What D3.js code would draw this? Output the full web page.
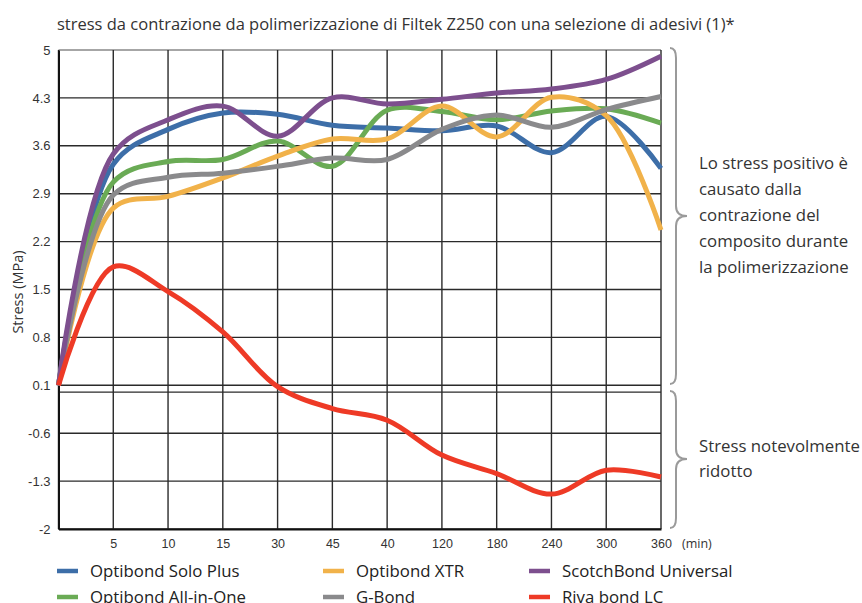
<!DOCTYPE html>
<html>
<head>
<meta charset="utf-8">
<script src="https://cdn.jsdelivr.net/npm/d3@7"></script>
<style>
  body { margin: 0; background: #fff; }
  svg { display: block; font-family: "Open Sans", "Noto Sans", sans-serif; }
</style>
</head>
<body>
<div id="chart"></div>
<script>
// minuti (etichette come nel grafico originale)
const categories = ["0", "5", "10", "15", "30", "45", "40", "120", "180", "240", "300", "360"];
const yTicks = [5, 4.3, 3.6, 2.9, 2.2, 1.5, 0.8, 0.1, -0.6, -1.3, -2];

const soloPlus   = [0.1, 3.33, 3.84, 4.08, 4.06, 3.90, 3.86, 3.82, 3.89, 3.50, 4.03, 3.27];
const allInOne   = [0.1, 3.07, 3.37, 3.40, 3.67, 3.30, 4.12, 4.10, 3.98, 4.11, 4.14, 3.93];
const xtr        = [0.1, 2.69, 2.86, 3.13, 3.45, 3.70, 3.70, 4.18, 3.73, 4.31, 4.04, 2.37];
const gBond      = [0.1, 2.88, 3.14, 3.20, 3.30, 3.42, 3.40, 3.84, 4.05, 3.87, 4.13, 4.32];
const scotchBond = [0.1, 3.48, 3.98, 4.18, 3.74, 4.30, 4.21, 4.28, 4.37, 4.43, 4.57, 4.91];
const rivaBond   = [0.1, 1.83, 1.47, 0.88, 0.08, -0.24, -0.41, -0.92, -1.19, -1.49, -1.14, -1.24];

const series = [
  { name: "Optibond Solo Plus", values: soloPlus, color: "#3d6ea8" },
  { name: "Optibond All-in-One", values: allInOne, color: "#6aab55" },
  { name: "Optibond XTR", values: xtr, color: "#f1b24a" },
  { name: "G-Bond", values: gBond, color: "#8a8a8c" },
  { name: "ScotchBond Universal", values: scotchBond, color: "#7d4f8e" },
  { name: "Riva bond LC", values: rivaBond, color: "#ee3a26" }
];

const width = 862;
const height = 603;

const svg = d3.select("#chart").append("svg")
  .attr("width", width)
  .attr("height", height);

svg.append("rect").attr("width", width).attr("height", height).attr("fill", "#fff");

const x = d3.scalePoint()
  .domain(categories)
  .range([58.5, 661]);

const y = d3.scaleLinear()
  .domain([-2, 5])
  .range([529, 50]);

// titolo
svg.append("text")
  .attr("x", 57)
  .attr("y", 30)
  .attr("font-size", 16.5)
  .attr("fill", "#333")
  .text("stress da contrazione da polimerizzazione di Filtek Z250 con una selezione di adesivi (1)*");

// griglia
const grid = svg.append("g");
grid.selectAll("line.h")
  .data(yTicks.concat([0]))
  .enter().append("line")
  .attr("x1", x.range()[0]).attr("x2", x.range()[1])
  .attr("y1", d => y(d)).attr("y2", d => y(d))
  .attr("stroke", d => d === 5 ? "#888" : "#2a2a2a")
  .attr("stroke-width", 1.4);

grid.selectAll("line.v")
  .data(categories)
  .enter().append("line")
  .attr("x1", d => x(d)).attr("x2", d => x(d))
  .attr("y1", y(5)).attr("y2", y(-2))
  .attr("stroke", "#2a2a2a")
  .attr("stroke-width", 1.4);

// assi
const yAxis = svg.append("g")
  .attr("transform", `translate(${x.range()[0]},0)`)
  .call(d3.axisLeft(y).tickValues(yTicks).tickSize(0).tickPadding(8).tickFormat(d => d));
yAxis.select(".domain").attr("stroke", "#111").attr("stroke-width", 2);
yAxis.selectAll("text").attr("font-size", 13).attr("fill", "#333").attr("font-family", null);

const xAxis = svg.append("g")
  .attr("transform", `translate(0,${y(-2)})`)
  .call(d3.axisBottom(x).tickSize(0).tickPadding(10).tickFormat(d => d === "0" ? "" : d));
xAxis.select(".domain").attr("stroke", "#111").attr("stroke-width", 2);
xAxis.selectAll("text").attr("font-size", 12.5).attr("fill", "#333").attr("font-family", null);

svg.append("text")
  .attr("x", 682).attr("y", 548)
  .attr("font-size", 12.5).attr("fill", "#333")
  .text("(min)");

svg.append("text")
  .attr("transform", "translate(23,292) rotate(-90)")
  .attr("text-anchor", "middle")
  .attr("font-size", 14.5).attr("fill", "#333")
  .text("Stress (MPa)");

// curve
const line = d3.line()
  .x((d, i) => x(categories[i]))
  .y(d => y(d))
  .curve(d3.curveCatmullRom.alpha(0.5));

svg.append("g").selectAll("path")
  .data(series)
  .enter().append("path")
  .attr("d", d => line(d.values))
  .attr("fill", "none")
  .attr("stroke", d => d.color)
  .attr("stroke-width", 5)
  .attr("stroke-linejoin", "round");

// parentesi graffe e note
function brace(top, bottom, tip) {
  const xl = 670, xv = 676, xt = 687;
  return `M${xl},${top} Q${xv},${top} ${xv},${top + 10} L${xv},${tip - 10} ` +
    `Q${xv},${tip} ${xt},${tip} Q${xv},${tip} ${xv},${tip + 10} ` +
    `L${xv},${bottom - 10} Q${xv},${bottom} ${xl},${bottom}`;
}
svg.append("path").attr("d", brace(48, 384, 216))
  .attr("fill", "none").attr("stroke", "#9a9a9a").attr("stroke-width", 2);
svg.append("path").attr("d", brace(391, 528, 459))
  .attr("fill", "none").attr("stroke", "#9a9a9a").attr("stroke-width", 2);

const noteTop = ["Lo stress positivo è", "causato dalla", "contrazione del", "composito durante", "la polimerizzazione"];
const noteBottom = ["Stress notevolmente", "ridotto"];

svg.append("g").selectAll("text")
  .data(noteTop)
  .enter().append("text")
  .attr("x", 699).attr("y", (d, i) => 169 + i * 26)
  .attr("font-size", 16.8).attr("fill", "#333")
  .text(d => d);

svg.append("g").selectAll("text")
  .data(noteBottom)
  .enter().append("text")
  .attr("x", 699).attr("y", (d, i) => 452 + i * 25)
  .attr("font-size", 16.8).attr("fill", "#333")
  .text(d => d);

// legenda
const legendPos = [
  [57, 571], [57, 597], [323, 571], [323, 597], [529, 571], [529, 597]
];
const legend = svg.append("g").selectAll("g")
  .data(series)
  .enter().append("g")
  .attr("transform", (d, i) => `translate(${legendPos[i][0]},${legendPos[i][1]})`);
legend.append("line")
  .attr("x1", 0).attr("x2", 21)
  .attr("stroke", d => d.color).attr("stroke-width", 4.5);
legend.append("text")
  .attr("x", 33).attr("y", 6)
  .attr("font-size", 16.8).attr("fill", "#222")
  .text(d => d.name);
</script>
</body>
</html>
